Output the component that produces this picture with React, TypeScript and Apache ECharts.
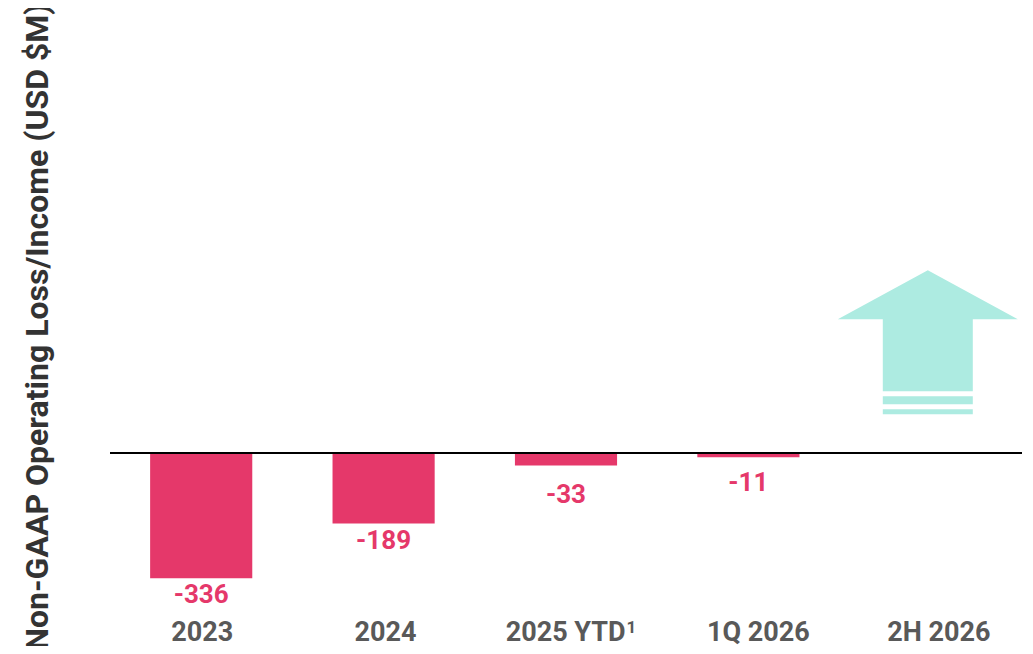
import React, { useEffect, useRef } from "react";
import * as echarts from "echarts";

const categories = ["2023", "2024", "2025 YTD¹", "1Q 2026", "2H 2026"];
const values: (number | null)[] = [-336, -189, -33, -11, null];
const labelDistances = [3, 3, 16, 12, 0];
const categoryLabelShift = [1, 2, 5, 10, 8];
const arrowCategoryIndex = 4;
const yTitle = "Non-GAAP Operating Loss/Income (USD $M)";

const PINK = "#E5386A";
const TEAL = "#ADEBE1";
const FONT = "Roboto, 'Noto Sans', sans-serif";

export default function App() {
  const ref = useRef<HTMLDivElement>(null);

  useEffect(() => {
    if (!ref.current) return;
    const chart = echarts.init(ref.current, undefined, { renderer: "svg" });
    const option: any = {
      animation: false,
      grid: { left: 110, right: 11, top: 230, bottom: 52, containLabel: false },
      xAxis: {
        type: "category",
        data: categories.map((c, i) => ({
          value: c,
          textStyle: { padding: [0, 0, 0, 2 * categoryLabelShift[i]] },
        })),
        position: "bottom",
        axisLine: { show: false, onZero: false },
        axisTick: { show: false },
        axisLabel: {
          interval: 0,
          hideOverlap: false,
          margin: 16,
          color: "#595959",
          fontFamily: FONT,
          fontWeight: "bold",
          fontSize: 27,
          formatter: (v: string) => v.replace("¹", "{sup|1}"),
          rich: {
            sup: {
              color: "#595959",
              fontFamily: FONT,
              fontWeight: "bold",
              fontSize: 17,
              verticalAlign: "top",
              padding: [0, 0, 6, 1],
            },
          },
        },
      },
      yAxis: {
        type: "value",
        min: -400,
        max: 600,
        show: false,
        splitLine: { show: false },
      },
      graphic: [
        {
          type: "text",
          x: 37,
          y: 327,
          rotation: Math.PI / 2,
          style: {
            text: yTitle,
            fontFamily: FONT,
            fontWeight: "bold",
            fontSize: 32,
            fill: "#333333",
            align: "center",
            verticalAlign: "middle",
          },
        },
      ],
      series: [
        {
          type: "bar",
          barWidth: "56%",
          data: values.map((v, i) => ({
            value: v,
            label: { distance: labelDistances[i] },
          })),
          itemStyle: { color: PINK },
          label: {
            show: true,
            position: "bottom",
            color: PINK,
            fontFamily: FONT,
            fontWeight: "bold",
            fontSize: 26,
          },
          markLine: {
            silent: true,
            symbol: "none",
            label: { show: false },
            lineStyle: { color: "#000000", width: 2, type: "solid" },
            data: [{ yAxis: 0 }],
          },
        },
        {
          type: "custom",
          data: [[arrowCategoryIndex, 0]],
          renderItem: (params: any, api: any) => {
            const p = api.coord([api.value(0), api.value(1)]);
            const cx = p[0] - 3;
            const y0 = p[1];
            return {
              type: "group",
              children: [
                {
                  type: "polygon",
                  shape: {
                    points: [
                      [cx, y0 - 183],
                      [cx + 90, y0 - 134],
                      [cx + 45, y0 - 134],
                      [cx + 45, y0 - 62],
                      [cx - 45, y0 - 62],
                      [cx - 45, y0 - 134],
                      [cx - 90, y0 - 134],
                    ],
                  },
                  style: { fill: TEAL },
                },
                {
                  type: "rect",
                  shape: { x: cx - 45, y: y0 - 57, width: 90, height: 8 },
                  style: { fill: TEAL },
                },
                {
                  type: "rect",
                  shape: { x: cx - 45, y: y0 - 44, width: 90, height: 5 },
                  style: { fill: TEAL },
                },
              ],
            };
          },
        },
      ],
    };
    chart.setOption(option);
    return () => chart.dispose();
  }, []);

  return <div ref={ref} style={{ width: 1033, height: 654, margin: -8 }} />;
}
